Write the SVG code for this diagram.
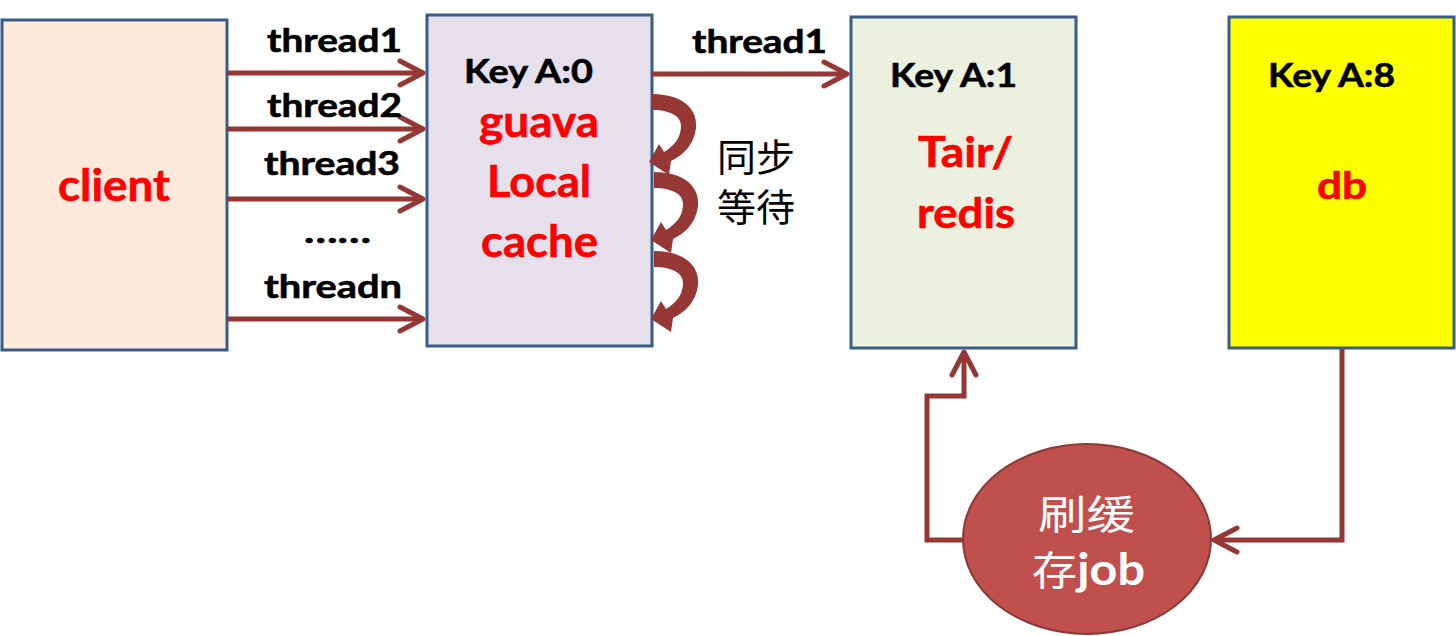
<svg xmlns="http://www.w3.org/2000/svg" width="1456" height="636" viewBox="0 0 1456 636">
<defs>
<style>
.box{stroke:#385D8A;stroke-width:3}
.lbl{font-family:Lato,"Liberation Sans",sans-serif;font-weight:bold;fill:#000;stroke:#000;stroke-width:0.6}
.red{font-family:Lato,"Liberation Sans",sans-serif;font-weight:bold;fill:#FF0000;stroke:#FF0000;stroke-width:0.6}
.cjk{font-family:"Noto Sans CJK SC",sans-serif;fill:#000}
.conn{fill:none;stroke:#953735;stroke-width:5;stroke-linejoin:miter}
.curve{fill:#953735}
</style>
<marker id="arr" markerUnits="userSpaceOnUse" markerWidth="40" markerHeight="40" refX="0" refY="0" orient="auto" overflow="visible" viewBox="-30 -20 40 40">
<path d="M-23,-12 L0,0 L-23,12" fill="none" stroke="#953735" stroke-width="5" stroke-linecap="round" stroke-linejoin="round"/>
</marker>
<path id="curl" d="M652,94 C681,94 698,108 696,128 C694,145 683,155 671,161 L669,175 L649,162 L659,144 L664,152 C674,146 681,138 681,126 C681,116 670,110 652,110 Z"/>
</defs>
<rect width="1456" height="636" fill="#fff"/>

<g id="client">
<rect class="box" x="2" y="20" width="225" height="330" fill="#FDEADA"/>
<text class="red" x="58" y="201" font-size="43" textLength="112" lengthAdjust="spacingAndGlyphs">client</text>
</g>

<g id="local-cache">
<rect class="box" x="427" y="15" width="225" height="331" fill="#E5E0EC"/>
<text class="lbl" x="464" y="83" font-size="33" textLength="129" lengthAdjust="spacingAndGlyphs">Key A:0</text>
<text class="red" x="479" y="137" font-size="44" textLength="120" lengthAdjust="spacingAndGlyphs">guava</text>
<text class="red" x="487" y="197" font-size="44" textLength="104" lengthAdjust="spacingAndGlyphs">Local</text>
<text class="red" x="481" y="257" font-size="44" textLength="117" lengthAdjust="spacingAndGlyphs">cache</text>
</g>

<g id="tair">
<rect class="box" x="851" y="17" width="225" height="331" fill="#EBF1DE"/>
<text class="lbl" x="890" y="87" font-size="33" textLength="127" lengthAdjust="spacingAndGlyphs">Key A:1</text>
<text class="red" x="918" y="167" font-size="42" textLength="95" lengthAdjust="spacingAndGlyphs">Tair/</text>
<text class="red" x="917" y="228" font-size="42" textLength="98" lengthAdjust="spacingAndGlyphs">redis</text>
</g>

<g id="db">
<rect class="box" x="1229" y="17" width="225" height="331" fill="#FFFF00"/>
<text class="lbl" x="1268" y="87" font-size="33" textLength="127" lengthAdjust="spacingAndGlyphs">Key A:8</text>
<text class="red" x="1317" y="199" font-size="38" textLength="50" lengthAdjust="spacingAndGlyphs">db</text>
</g>

<g id="refresh-job">
<ellipse cx="1087" cy="539" rx="124" ry="95" fill="#C0504D" stroke="#8C3836" stroke-width="2"/>
<text x="1038" y="529" font-size="40" fill="#fff" font-family="'Noto Sans CJK SC',sans-serif" textLength="97" lengthAdjust="spacingAndGlyphs">刷缓</text>
<text x="1032" y="585" font-size="40" fill="#fff" font-family="'Noto Sans CJK SC',sans-serif" textLength="113" lengthAdjust="spacingAndGlyphs"><tspan>存</tspan><tspan font-family="Lato,'Liberation Sans',sans-serif" font-weight="bold" font-size="43">job</tspan></text>
</g>

<g id="sync-wait">
<use href="#curl" class="curve"/>
<use href="#curl" class="curve" transform="translate(2,78)"/>
<use href="#curl" class="curve" transform="translate(2,157)"/>
<text class="cjk" x="717" y="171" font-size="38" textLength="78" lengthAdjust="spacingAndGlyphs">同步</text>
<text class="cjk" x="717" y="221" font-size="38" textLength="78" lengthAdjust="spacingAndGlyphs">等待</text>
</g>

<g id="connectors">
<line class="conn" x1="227" y1="73" x2="423" y2="73" marker-end="url(#arr)"/>
<line class="conn" x1="227" y1="129" x2="423" y2="129" marker-end="url(#arr)"/>
<line class="conn" x1="227" y1="199" x2="423" y2="199" marker-end="url(#arr)"/>
<line class="conn" x1="227" y1="319" x2="423" y2="319" marker-end="url(#arr)"/>
<line class="conn" x1="652" y1="74" x2="847" y2="74" marker-end="url(#arr)"/>
<path class="conn" d="M963,540 H927 V396 H964 V352" marker-end="url(#arr)"/>
<path class="conn" d="M1342,349 V540 H1214" marker-end="url(#arr)"/>
</g>

<g id="labels">
<text class="lbl" x="267" y="52" font-size="32" textLength="135" lengthAdjust="spacingAndGlyphs">thread1</text>
<text class="lbl" x="267" y="117" font-size="32" textLength="135" lengthAdjust="spacingAndGlyphs">thread2</text>
<text class="lbl" x="264" y="175" font-size="32" textLength="136" lengthAdjust="spacingAndGlyphs">thread3</text>
<text class="lbl" x="304" y="243" font-size="32" textLength="67" lengthAdjust="spacingAndGlyphs">……</text>
<text class="lbl" x="264" y="298" font-size="32" textLength="138" lengthAdjust="spacingAndGlyphs">threadn</text>
<text class="lbl" x="692" y="53" font-size="32" textLength="135" lengthAdjust="spacingAndGlyphs">thread1</text>
</g>
</svg>
